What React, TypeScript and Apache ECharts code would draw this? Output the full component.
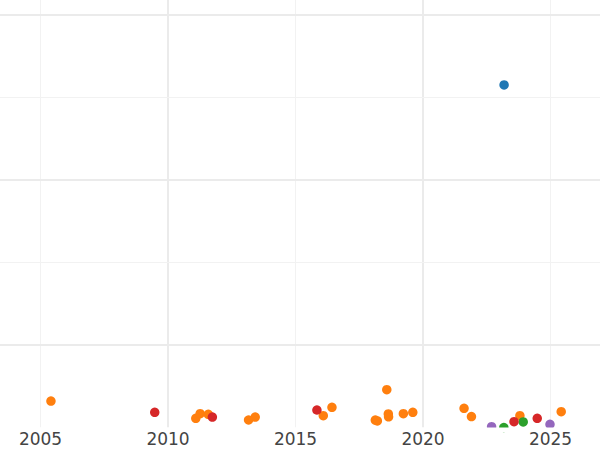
import React, { useEffect, useRef } from "react";
import * as echarts from "echarts";

// [year, value]
const seriesBlue: number[][] = [[2023.18, 3.152]];
const seriesOrange: number[][] = [
  [2005.41, -0.679],
  [2011.09, -0.889],
  [2011.26, -0.833],
  [2011.58, -0.84],
  [2013.16, -0.909],
  [2013.42, -0.873],
  [2016.09, -0.857],
  [2016.43, -0.756],
  [2018.13, -0.91],
  [2018.21, -0.92],
  [2018.58, -0.541],
  [2018.64, -0.835],
  [2018.65, -0.87],
  [2019.23, -0.833],
  [2019.6, -0.816],
  [2021.61, -0.768],
  [2021.9, -0.868],
  [2023.8, -0.857],
  [2025.42, -0.808],
];
const seriesGreen: number[][] = [
  [2023.17, -1.0],
  [2023.93, -0.933],
];
const seriesRed: number[][] = [
  [2009.48, -0.816],
  [2011.74, -0.873],
  [2015.84, -0.788],
  [2023.57, -0.929],
  [2024.48, -0.889],
];
const seriesPurple: number[][] = [
  [2022.69, -0.99],
  [2024.98, -0.962],
];

const xMin = 2000;
const xMax = 2030;
const yMin = -1;
const yMax = 4.1818;
const yGridMajor = [0, 2, 4];
const yGridMinor = [1, 3];

const MAJOR = "#ebebeb";
const MINOR = "#f2f2f2";

export default function App() {
  const ref = useRef<HTMLDivElement>(null);
  useEffect(() => {
    if (!ref.current) return;
    const chart = echarts.init(ref.current, null, { renderer: "svg" });
    const mk = (name: string, data: number[][], color: string) => ({
      name,
      type: "scatter",
      data,
      xAxisIndex: 0,
      yAxisIndex: 0,
      symbolSize: 9.5,
      itemStyle: { color, opacity: 1 },
      z: 3,
      clip: true,
    });
    chart.setOption({
      animation: false,
      backgroundColor: "#ffffff",
      grid: { left: 0, right: 0, top: 0, bottom: 22.5, containLabel: false, outerBoundsMode: "none" },
      graphic: [
        {
          type: "rect",
          silent: true,
          z: 10,
          shape: { x: 0, y: 427.5, width: 765, height: 4.5 },
          style: { fill: "#ffffff" },
        },
      ],
      xAxis: [
        {
          type: "value",
          min: xMin,
          max: xMax,
          interval: 10,
          axisLine: { show: false },
          axisTick: { show: false },
          axisLabel: { show: false },
          splitLine: { show: true, lineStyle: { color: MAJOR, width: 2 } },
          minorTick: { show: false, splitNumber: 2 },
          minorSplitLine: { show: true, lineStyle: { color: MINOR, width: 1 } },
        },
        {
          type: "value",
          min: xMin,
          max: xMax,
          interval: 5,
          position: "bottom",
          axisLine: { show: false },
          axisTick: { show: false },
          splitLine: { show: false },
          axisLabel: {
            show: true,
            showMinLabel: false,
            showMaxLabel: false,
            margin: 3,
            fontSize: 17,
            fontFamily: "DejaVu Sans",
            color: "#444444",
            formatter: (v: number) => String(v),
          },
        },
      ],
      yAxis: {
        type: "value",
        min: yMin,
        max: yMax,
        axisLine: { show: false },
        axisTick: { show: false },
        axisLabel: { show: false },
        splitLine: { show: false },
      },
      series: [
        {
          type: "scatter",
          data: [],
          z: 1,
          markLine: {
            silent: true,
            symbol: "none",
            label: { show: false },
            animation: false,
            data: [
              ...yGridMajor.map((v) => ({ yAxis: v, lineStyle: { color: MAJOR, width: 2, type: "solid" } })),
              ...yGridMinor.map((v) => ({ yAxis: v, lineStyle: { color: MINOR, width: 1, type: "solid" } })),
            ],
          },
        },
        mk("blue", seriesBlue, "#1f77b4"),
        mk("orange", seriesOrange, "#ff7f0e"),
        mk("green", seriesGreen, "#2ca02c"),
        mk("red", seriesRed, "#d62728"),
        mk("purple", seriesPurple, "#9467bd"),
      ],
    });
    return () => chart.dispose();
  }, []);
  return (
    <div style={{ position: "fixed", left: 0, top: 0, width: 600, height: 450, overflow: "hidden", background: "#fff" }}>
      <div ref={ref} style={{ position: "absolute", left: -87, top: 0, width: 765, height: 450 }} />
    </div>
  );
}
